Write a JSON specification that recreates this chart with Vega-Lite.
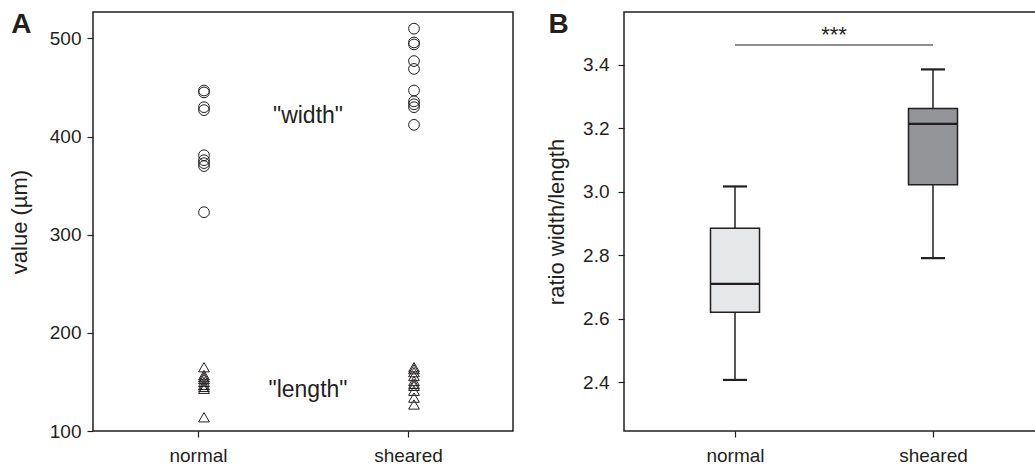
{
  "$schema": "https://vega.github.io/schema/vega-lite/v6.json",
  "padding": {"left": 7, "top": 10, "right": 0, "bottom": 0},
  "spacing": 30,
  "config": {
    "font": "Liberation Sans",
    "view": {"stroke": "#231f20", "strokeWidth": 1.5},
    "axis": {
      "grid": false,
      "labelFont": "Liberation Sans",
      "labelFontSize": 19,
      "labelColor": "#231f20",
      "titleFont": "Liberation Sans",
      "titleFontSize": 22,
      "titleFontWeight": "normal",
      "titleColor": "#231f20",
      "tickColor": "#231f20",
      "domainColor": "#231f20",
      "tickSize": 6,
      "tickWidth": 1.2,
      "domainWidth": 1.5
    },
    "title": {"font": "Liberation Sans", "fontSize": 28, "fontWeight": "bold", "color": "#231f20", "anchor": "start", "frame": "bounds", "offset": -27, "dx": 3}
  },
  "hconcat": [
    {
      "width": 420,
      "height": 419,
      "title": {"text": "A"},
      "layer": [
        {
          "data": {"values": [
            {"condition": "normal", "measure": "width", "value": 447},
            {"condition": "normal", "measure": "width", "value": 445},
            {"condition": "normal", "measure": "width", "value": 430},
            {"condition": "normal", "measure": "width", "value": 427},
            {"condition": "normal", "measure": "width", "value": 381},
            {"condition": "normal", "measure": "width", "value": 376},
            {"condition": "normal", "measure": "width", "value": 373},
            {"condition": "normal", "measure": "width", "value": 370},
            {"condition": "normal", "measure": "width", "value": 323},
            {"condition": "sheared", "measure": "width", "value": 510},
            {"condition": "sheared", "measure": "width", "value": 496},
            {"condition": "sheared", "measure": "width", "value": 494},
            {"condition": "sheared", "measure": "width", "value": 477},
            {"condition": "sheared", "measure": "width", "value": 469},
            {"condition": "sheared", "measure": "width", "value": 447},
            {"condition": "sheared", "measure": "width", "value": 436},
            {"condition": "sheared", "measure": "width", "value": 433},
            {"condition": "sheared", "measure": "width", "value": 430},
            {"condition": "sheared", "measure": "width", "value": 412},
            {"condition": "normal", "measure": "length", "value": 165},
            {"condition": "normal", "measure": "length", "value": 157},
            {"condition": "normal", "measure": "length", "value": 155},
            {"condition": "normal", "measure": "length", "value": 153},
            {"condition": "normal", "measure": "length", "value": 150},
            {"condition": "normal", "measure": "length", "value": 147},
            {"condition": "normal", "measure": "length", "value": 145},
            {"condition": "normal", "measure": "length", "value": 143},
            {"condition": "normal", "measure": "length", "value": 114},
            {"condition": "sheared", "measure": "length", "value": 165},
            {"condition": "sheared", "measure": "length", "value": 163},
            {"condition": "sheared", "measure": "length", "value": 160},
            {"condition": "sheared", "measure": "length", "value": 156},
            {"condition": "sheared", "measure": "length", "value": 151},
            {"condition": "sheared", "measure": "length", "value": 148},
            {"condition": "sheared", "measure": "length", "value": 146},
            {"condition": "sheared", "measure": "length", "value": 141},
            {"condition": "sheared", "measure": "length", "value": 134},
            {"condition": "sheared", "measure": "length", "value": 127}
          ]},
          "mark": {"type": "point", "filled": false, "color": "#231f20", "strokeWidth": 1, "size": 115, "xOffset": 6, "opacity": 1},
          "encoding": {
            "x": {"field": "condition", "type": "nominal", "scale": {"type": "point", "padding": 0.5}, "axis": {"title": null, "labelAngle": 0, "labelPadding": 9, "domain": false}},
            "y": {"field": "value", "type": "quantitative", "scale": {"domain": [100, 527], "nice": false, "zero": false}, "axis": {"title": "value (µm)", "values": [100, 200, 300, 400, 500], "labelPadding": 6, "titlePadding": 18, "domain": false}},
            "shape": {"field": "measure", "type": "nominal", "scale": {"domain": ["width", "length"], "range": ["circle", "triangle-up"]}, "legend": null}
          }
        },
        {
          "data": {"values": [
            {"label": "\"width\"", "value": 421},
            {"label": "\"length\"", "value": 142}
          ]},
          "mark": {"type": "text", "fontSize": 23, "color": "#231f20", "dx": 5, "baseline": "middle"},
          "encoding": {
            "y": {"field": "value", "type": "quantitative"},
            "text": {"field": "label", "type": "nominal"}
          }
        }
      ]
    },
    {
      "width": 413,
      "height": 419,
      "title": {"text": "B"},
      "data": {"values": [
        {"condition": "normal", "lower": 2.407, "q1": 2.620, "median": 2.710, "q3": 2.885, "upper": 3.017},
        {"condition": "sheared", "lower": 2.791, "q1": 3.022, "median": 3.214, "q3": 3.263, "upper": 3.386}
      ]},
      "encoding": {
        "x": {"field": "condition", "type": "nominal", "scale": {"type": "point", "range": [111, 309], "padding": 0}, "axis": {"title": null, "labelAngle": 0, "labelPadding": 9, "domain": false}}
      },
      "layer": [
        {
          "mark": {"type": "rule", "color": "#231f20", "strokeWidth": 1.5},
          "encoding": {
            "y": {"field": "lower", "type": "quantitative", "scale": {"domain": [2.246, 3.567], "nice": false, "zero": false}, "axis": {"title": "ratio width/length", "values": [2.4, 2.6, 2.8, 3.0, 3.2, 3.4], "format": ".1f", "labelPadding": 9, "titlePadding": 14, "domain": false}},
            "y2": {"field": "upper"}
          }
        },
        {
          "mark": {"type": "bar", "size": 49, "stroke": "#231f20", "strokeWidth": 1.5},
          "encoding": {
            "y": {"field": "q1", "type": "quantitative"},
            "y2": {"field": "q3"},
            "fill": {"field": "condition", "type": "nominal", "scale": {"domain": ["normal", "sheared"], "range": ["#e6e7e8", "#939598"]}, "legend": null}
          }
        },
        {
          "mark": {"type": "tick", "size": 49, "thickness": 2.2, "color": "#231f20", "opacity": 1},
          "encoding": {"y": {"field": "median", "type": "quantitative"}}
        },
        {
          "mark": {"type": "tick", "size": 24, "thickness": 2.2, "color": "#231f20", "opacity": 1},
          "encoding": {"y": {"field": "lower", "type": "quantitative"}}
        },
        {
          "mark": {"type": "tick", "size": 24, "thickness": 2.2, "color": "#231f20", "opacity": 1},
          "encoding": {"y": {"field": "upper", "type": "quantitative"}}
        },
        {
          "data": {"values": [{"from": "normal", "to": "sheared", "level": 3.463, "label": "***"}]},
          "mark": {"type": "rule", "color": "#231f20", "strokeWidth": 1},
          "encoding": {
            "x": {"field": "from", "type": "nominal"},
            "x2": {"field": "to"},
            "y": {"field": "level", "type": "quantitative"}
          }
        },
        {
          "data": {"values": [{"from": "normal", "to": "sheared", "level": 3.463, "label": "***"}]},
          "mark": {"type": "text", "fontSize": 22, "color": "#231f20", "dx": 4, "dy": -3, "baseline": "alphabetic"},
          "encoding": {
            "x": {"value": 206},
            "y": {"field": "level", "type": "quantitative"},
            "text": {"field": "label", "type": "nominal"}
          }
        }
      ]
    }
  ]
}
